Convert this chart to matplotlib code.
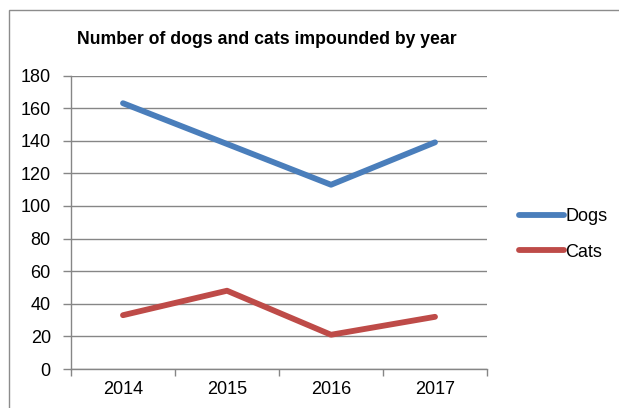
import matplotlib
matplotlib.use("Agg")
import matplotlib.pyplot as plt
from matplotlib.patches import Rectangle

years = ["2014", "2015", "2016", "2017"]
dogs = [163, 138, 113, 139]
cats = [33, 48, 21, 32]
y_ticks = [0, 20, 40, 60, 80, 100, 120, 140, 160, 180]

plt.rcParams["font.family"] = ["Liberation Sans", "DejaVu Sans"]

W, H = 619, 408
fig = plt.figure(figsize=(W / 100, H / 100), dpi=100)

# outer chart border
fig.patches.append(Rectangle((9 / W, -0.05), 1.2, 1 - 10 / H + 0.05,
                             transform=fig.transFigure, fill=False,
                             edgecolor="#8c8c8c", linewidth=1.0))

ax = fig.add_axes([71 / W, 1 - 369 / H, (487 - 71) / W, (369 - 75.5) / H])
x = list(range(len(years)))
ax.plot(x, dogs, color="#4a7ebb", linewidth=4.2, solid_capstyle="round",
        solid_joinstyle="round", label="Dogs", zorder=3)
ax.plot(x, cats, color="#be4b48", linewidth=4.2, solid_capstyle="round",
        solid_joinstyle="round", label="Cats", zorder=3)

ax.set_xlim(-0.5, len(years) - 0.5)
ax.set_ylim(0, 180)
ax.set_yticks(y_ticks)
ax.set_xticks(x)
ax.set_xticklabels(years)
ax.set_xticks([i - 0.5 for i in range(len(years) + 1)], minor=True)
ax.tick_params(axis="x", which="major", length=0, pad=9, labelsize=13,
               colors="#000000")
ax.tick_params(axis="x", which="minor", length=5, direction="out",
               color="#868686", width=1)
ax.tick_params(axis="y", length=6, direction="out", color="#868686",
               width=1, pad=8.5, labelsize=13)
ax.grid(axis="y", color="#868686", linewidth=1)
ax.set_axisbelow(True)
for s in ["top", "right"]:
    ax.spines[s].set_visible(False)
for s in ["left", "bottom"]:
    ax.spines[s].set_color("#868686")
    ax.spines[s].set_linewidth(1)

fig.text(267 / W, 1 - 40 / H, "Number of dogs and cats impounded by year",
         ha="center", va="center", fontsize=12.7, fontweight="bold")

fig.legend(loc="center left", bbox_to_anchor=(503 / W, 1 - 234.5 / H),
           frameon=False, fontsize=13, handlelength=2.5, handletextpad=0.05,
           labelspacing=1.0)

fig.savefig("out.png", dpi=100)
